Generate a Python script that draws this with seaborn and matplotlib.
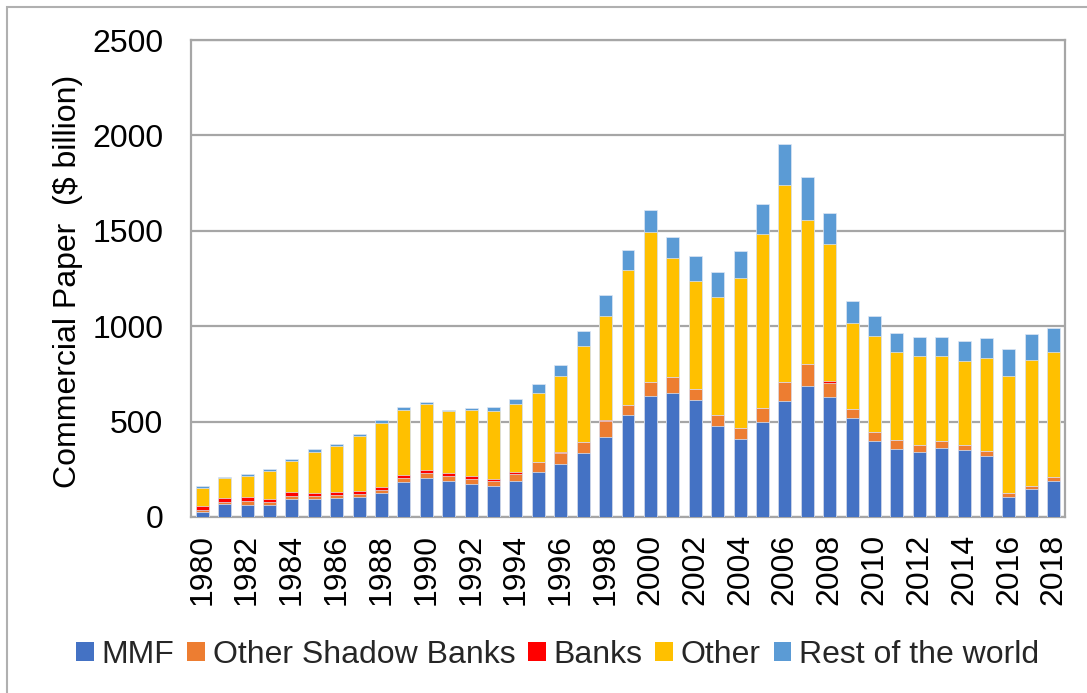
import numpy as np
import pandas as pd

import matplotlib
matplotlib.use("Agg")
import matplotlib.pyplot as plt
from matplotlib.patches import Patch, Rectangle
import seaborn as sns


years = list(range(1980, 2019))

mmf = [26, 68, 63, 63, 94, 94, 101, 106, 125, 185,
       206, 188, 173, 162, 188, 235, 277, 336, 418, 532,
       634, 652, 615, 476, 408, 497, 607, 685, 627, 518,
       397, 357, 342, 364, 350, 322, 105, 146, 188]

other_shadow = [9, 10, 19, 14, 18, 18, 12, 16, 14, 21,
                22, 25, 27, 26, 37, 51, 57, 55, 87, 54,
                72, 84, 56, 57, 56, 73, 99, 115, 74, 48,
                47, 49, 34, 32, 26, 23, 20, 16, 21]

banks = [21, 21, 23, 17, 17, 13, 16, 14, 18, 14,
         16, 17, 13, 9, 9, 3, 6, 2, 4, 1,
         0, 0, 0, 0, 0, 0, 0, 0, 14, 0,
         0, 0, 0, 0, 0, 0, 0, 0, 0]

other = [96, 105, 111, 147, 162, 218, 244, 289, 338, 341,
         349, 323, 348, 361, 359, 363, 399, 505, 545, 706,
         788, 624, 568, 621, 791, 912, 1036, 757, 714, 450,
         506, 457, 469, 449, 443, 488, 616, 662, 657]

rest_of_world = [8, 7, 7, 8, 11, 11, 9, 9, 12, 14,
                 12, 10, 12, 17, 26, 45, 57, 76, 112, 105,
                 113, 108, 129, 132, 139, 156, 212, 224, 164, 117,
                 103, 101, 101, 101, 105, 105, 139, 136, 124]

series_names = ["MMF", "Other Shadow Banks", "Banks", "Other", "Rest of the world"]
colors = ["#4472C4", "#ED7D31", "#FF0000", "#FFC000", "#5B9BD5"]

df = pd.DataFrame({
    "year": [str(y) for y in years],
    "MMF": mmf,
    "Other Shadow Banks": other_shadow,
    "Banks": banks,
    "Other": other,
    "Rest of the world": rest_of_world,
})

# cumulative tops for stacking
cum = df[series_names].cumsum(axis=1)
cum["year"] = df["year"]


sns.set_theme(style="white")
plt.rcParams["font.family"] = ["Liberation Sans", "DejaVu Sans"]

FS = 23

fig = plt.figure(figsize=(10.87, 6.93), dpi=100)
ax = fig.add_axes([191 / 1087, 1 - 517 / 693, (1065 - 191) / 1087, (517 - 40) / 693])

grid_color = "#A6A6A6"

# draw from the top layer down so each segment shows
for name, color in reversed(list(zip(series_names, colors))):
    sns.barplot(
        data=cum,
        x="year",
        y=name,
        color=color,
        width=0.58,
        saturation=1,
        edgecolor="#DDE6F4",
        linewidth=0.5,
        ax=ax,
        zorder=3,
    )

ax.set_ylim(0, 2500)
ax.set_xlim(-0.5, len(years) - 0.5)
ax.set_yticks([0, 500, 1000, 1500, 2000, 2500])
ax.yaxis.grid(True, color=grid_color, linewidth=1.6, zorder=0)
ax.set_axisbelow(True)

ax.set_xticks(range(0, len(years), 2))
ax.set_xticklabels([str(y) for y in years[::2]], rotation=90)
ax.tick_params(axis="both", length=0, labelsize=FS, colors="black")
ax.tick_params(axis="y", pad=20)
ax.tick_params(axis="x", pad=12)

for side in ["left", "right", "top", "bottom"]:
    ax.spines[side].set_visible(True)
    ax.spines[side].set_color(grid_color)
    ax.spines[side].set_linewidth(1.6)

ax.set_xlabel("")
ax.set_ylabel("Commercial Paper  ($ billion)", fontsize=FS, color="black")
ax.yaxis.set_label_coords(-0.123, 0.495)

handles = [Patch(facecolor=c, edgecolor="none") for c in colors]
fig.legend(
    handles,
    series_names,
    loc="center",
    bbox_to_anchor=(0.513, 1 - 655 / 693),
    ncol=5,
    frameon=False,
    fontsize=FS,
    handlelength=0.55,
    handleheight=0.55,
    handletextpad=0.25,
    columnspacing=0.4,
)

# outer chart border
fig.patches.append(Rectangle(
    (7 / 1087, -0.1), 1.2, (693 - 7) / 693 + 0.1,
    transform=fig.transFigure, fill=False,
    edgecolor="#B0B0B0", linewidth=1.5,
))

fig.savefig("out.png", dpi=100)
plt.close()
